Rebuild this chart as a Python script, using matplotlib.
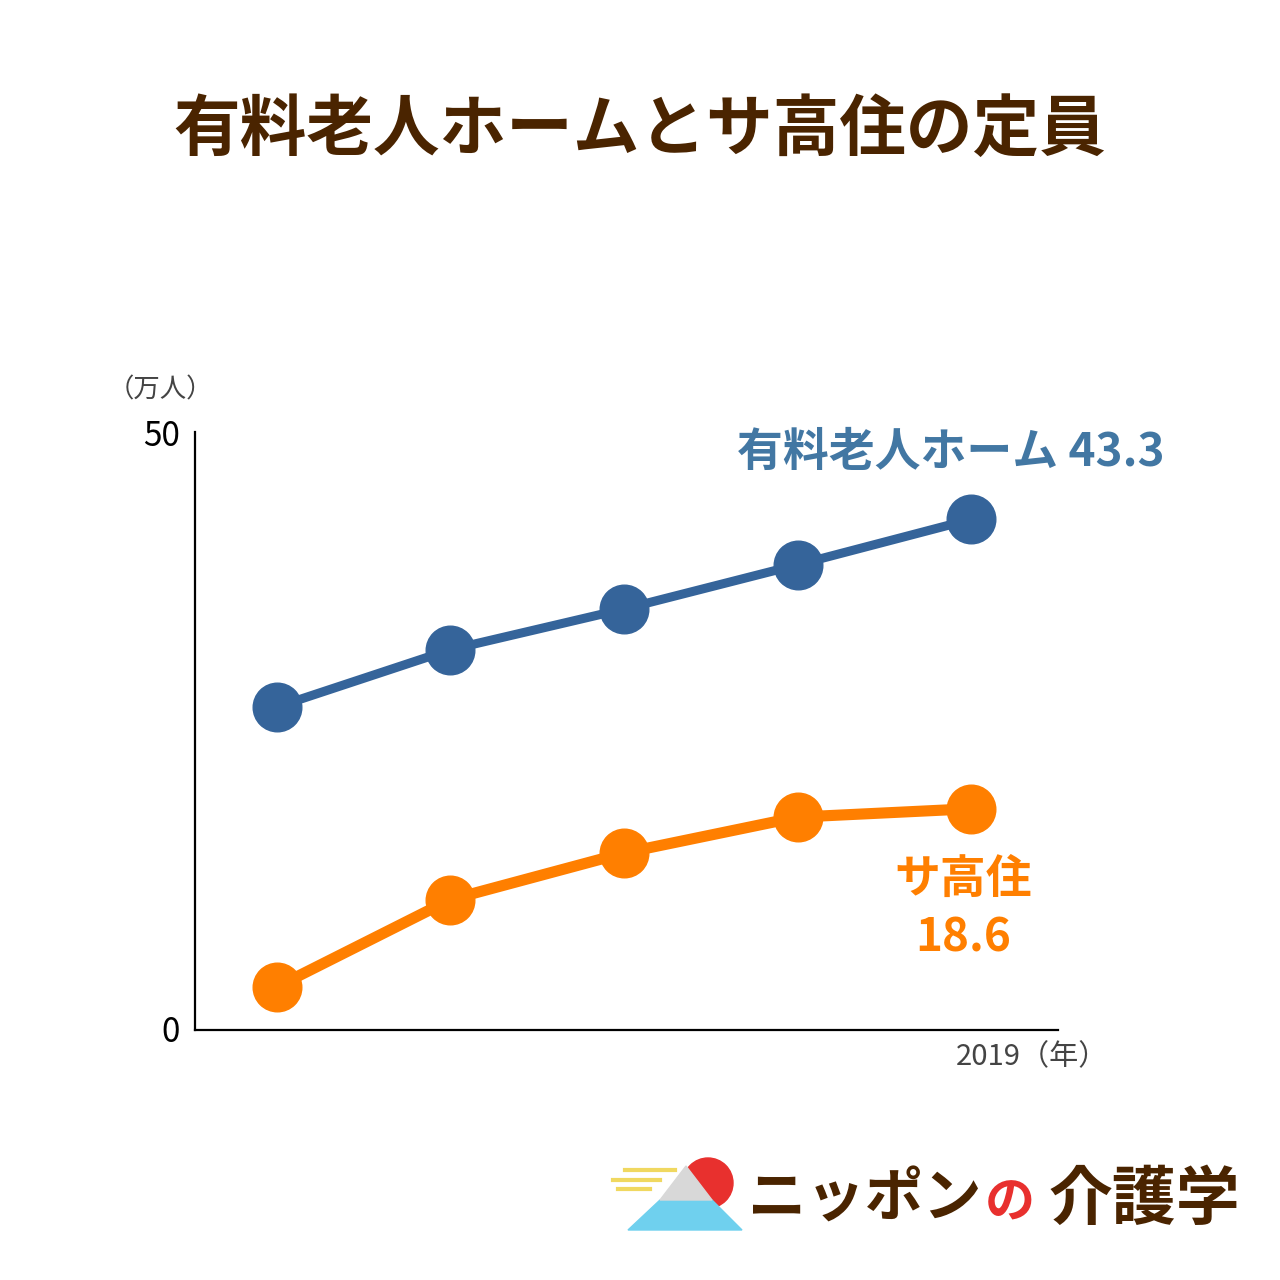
import matplotlib.pyplot as plt
from matplotlib.patches import Circle, Polygon

plt.rcParams['font.family'] = ['Noto Sans CJK JP', 'DejaVu Sans']

# データ（万人）
years = [2015, 2016, 2017, 2018, 2019]
yuryo = [27.0, 31.8, 35.2, 38.9, 42.7]
sakoju = [3.6, 10.9, 14.8, 17.8, 18.5]

blue = '#35649a'
orange = '#ff7f00'
brown = '#4a2400'

fig = plt.figure(figsize=(12.8, 12.8), dpi=100)
W = H = 1280.0

def fx(px):
    return px / W

def fy(py):
    return 1 - py / H

ax = fig.add_axes([fx(195), fy(1030), fx(1058) - fx(195), fy(432) - fy(1030)])

ax.plot(years, yuryo, color=blue, lw=6.5, marker='o', ms=35, zorder=3)
ax.plot(years, sakoju, color=orange, lw=8, marker='o', ms=35, zorder=3)

ax.set_xlim(2014.53, 2019.5)
ax.set_ylim(0, 50)
ax.set_xticks([])
ax.set_yticks([])
for s in ['top', 'right']:
    ax.spines[s].set_visible(False)
for s in ['left', 'bottom']:
    ax.spines[s].set_linewidth(1.6)
    ax.spines[s].set_color('black')

# 目盛ラベル
fig.text(fx(180), fy(437), '50', ha='right', va='center', fontsize=24, color='black')
fig.text(fx(180), fy(1033), '0', ha='right', va='center', fontsize=24, color='black')
fig.text(fx(160), fy(390), '（万人）', ha='center', va='center', fontsize=19, color='#444444')
fig.text(fx(1108), fy(1057), '2019（年）', ha='right', va='center', fontsize=21, color='#444444')

# 系列ラベル
fig.text(fx(951), fy(453), '有料老人ホーム 43.3', ha='center', va='center', fontsize=33,
         fontweight='bold', color='#4277a3')
fig.text(fx(963), fy(880), 'サ高住', ha='center', va='center', fontsize=33,
         fontweight='bold', color=orange)
fig.text(fx(963), fy(938), '18.6', ha='center', va='center', fontsize=33,
         fontweight='bold', color=orange)

# タイトル
fig.text(0.5, fy(130), '有料老人ホームとサ高住の定員', ha='center', va='center',
         fontsize=48, fontweight='bold', color=brown)

# ロゴ
fig.add_artist(Circle((fx(708), fy(1183)), 25 / W, color='#e8302e', transform=fig.transFigure))
fig.add_artist(Polygon([(fx(628), fy(1230)), (fx(742), fy(1230)), (fx(712), fy(1200)), (fx(660), fy(1200))],
                       closed=True, color='#6fd0ee', transform=fig.transFigure))
fig.add_artist(Polygon([(fx(660), fy(1200)), (fx(712), fy(1200)), (fx(686), fy(1166))],
                       closed=True, color='#d8d8d8', transform=fig.transFigure))
for x0, x1, y in [(625, 675, 1170), (613, 660, 1180), (618, 650, 1189)]:
    fig.add_artist(plt.Line2D([fx(x0), fx(x1)], [fy(y), fy(y)], color='#f0d860', lw=3,
                              transform=fig.transFigure))
fig.text(fx(748), fy(1200), 'ニッポン', ha='left', va='center', fontsize=42,
         fontweight='bold', color=brown)
fig.text(fx(1010), fy(1203), 'の', ha='center', va='center', fontsize=36,
         fontweight='bold', color='#e8302e')
fig.text(fx(1240), fy(1200), '介護学', ha='right', va='center', fontsize=46,
         fontweight='bold', color=brown)

fig.savefig('out.png', dpi=100, facecolor='white')
